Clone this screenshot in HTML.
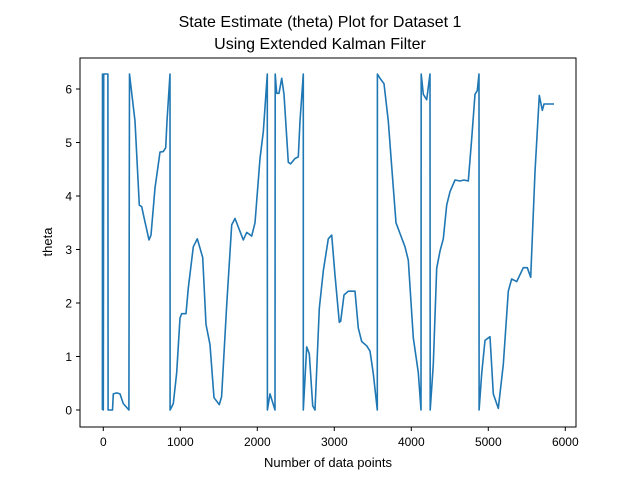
<!DOCTYPE html>
<html><head><meta charset="utf-8"><style>
body{margin:0;background:#fff;}
svg{display:block;font-family:"Liberation Sans","DejaVu Sans",sans-serif;}
</style></head><body>
<svg id="chart" width="640" height="480">
<rect width="640" height="480" fill="#fff"/>
<text x="320" y="27" text-anchor="middle" font-size="16">State Estimate (theta) Plot for Dataset 1</text>
<text x="320" y="49" text-anchor="middle" font-size="16">Using Extended Kalman Filter</text>
<g id="plot"></g>
<rect x="80" y="58" width="496" height="369" fill="none" stroke="#000" stroke-width="1"/>
<g id="xt"></g><g id="yt"></g>
<text x="328" y="467" text-anchor="middle" font-size="13">Number of data points</text>
<text x="52" y="242" text-anchor="middle" font-size="13" transform="rotate(-90 52 242)">theta</text>
</svg>
<script>
const xTicks=[0,1000,2000,3000,4000,5000,6000];
const yTicks=[0,1,2,3,4,5,6];
const samples=[-12,-10,0,5,60,62,120,130,174,217,260,333,340,347,412,468,499,529,594,620,671,736,779,810,827,866,867,909,953,996,1018,1074,1104,1169,1221,1291,1334,1386,1438,1506,1537,1602,1667,1710,1818,1862,1927,1970,2035,2078,2130,2131,2165,2230,2232,2252,2282,2317,2347,2403,2433,2490,2533,2555,2597,2598,2641,2675,2719,2749,2805,2857,2922,2966,3009,3065,3083,3126,3182,3269,3312,3356,3421,3464,3506,3558,3560,3594,3645,3701,3745,3801,3853,3918,3961,4026,4091,4126,4128,4156,4200,4243,4245,4286,4330,4373,4416,4460,4503,4568,4632,4684,4740,4784,4827,4857,4879,4880,4914,4957,5022,5065,5130,5195,5260,5304,5369,5455,5506,5551,5606,5662,5701,5723,5853];
const theta=[0,6.28,0,6.28,6.28,0,0,0.3,0.32,0.3,0.12,0,6.28,6.2,5.4,3.83,3.8,3.6,3.18,3.27,4.15,4.82,4.83,4.9,5.4,6.28,0,0.12,0.7,1.72,1.8,1.8,2.28,3.05,3.2,2.85,1.6,1.22,0.23,0.1,0.25,1.96,3.46,3.58,3.18,3.32,3.25,3.5,4.7,5.2,6.28,0,0.3,0,6.28,5.92,5.92,6.2,5.9,4.63,4.6,4.7,4.73,5.4,6.28,0,1.18,1.05,0.08,0,1.9,2.6,3.2,3.27,2.52,1.64,1.66,2.15,2.22,2.22,1.53,1.28,1.2,1.1,0.68,0,6.28,6.2,6.1,5.4,4.55,3.5,3.3,3.05,2.8,1.35,0.7,0,6.28,5.9,5.8,6.28,0,0.85,2.65,2.97,3.2,3.83,4.08,4.3,4.28,4.3,4.28,5.07,5.9,5.97,6.28,0,0.68,1.3,1.37,0.3,0.03,0.85,2.22,2.45,2.4,2.66,2.66,2.48,4.45,5.88,5.6,5.72,5.72];
const NS="http://www.w3.org/2000/svg";
const sx=v=>103.3+v*0.0770;
const sy=v=>410-v*53.5;
const plot=document.getElementById('plot');
const p=document.createElementNS(NS,'path');
p.setAttribute('d',samples.map((s,i)=>(i?'L':'M')+sx(s).toFixed(1)+' '+sy(theta[i]).toFixed(1)).join(' '));
p.setAttribute('fill','none');p.setAttribute('stroke','#1f77b4');p.setAttribute('stroke-width','1.6');p.setAttribute('stroke-linejoin','round');


plot.appendChild(p);
const xt=document.getElementById('xt');
xTicks.forEach(t=>{
 const l=document.createElementNS(NS,'line');
 l.setAttribute('x1',sx(t));l.setAttribute('x2',sx(t));l.setAttribute('y1',427);l.setAttribute('y2',431);l.setAttribute('stroke','#000');
 
 
 xt.appendChild(l);
 const tx=document.createElementNS(NS,'text');
 tx.setAttribute('x',sx(t));tx.setAttribute('y',446);tx.setAttribute('text-anchor','middle');tx.setAttribute('font-size','12');tx.textContent=t;
 
 
 xt.appendChild(tx);
});
const yt=document.getElementById('yt');
yTicks.forEach(t=>{
 const l=document.createElementNS(NS,'line');
 l.setAttribute('x1',76);l.setAttribute('x2',80);l.setAttribute('y1',sy(t));l.setAttribute('y2',sy(t));l.setAttribute('stroke','#000');
 
 
 yt.appendChild(l);
 const tx=document.createElementNS(NS,'text');
 tx.setAttribute('x',72);tx.setAttribute('y',sy(t)+4.5);tx.setAttribute('text-anchor','end');tx.setAttribute('font-size','12');tx.textContent=t;
 
 
 yt.appendChild(tx);
});
</script>
</body></html>
